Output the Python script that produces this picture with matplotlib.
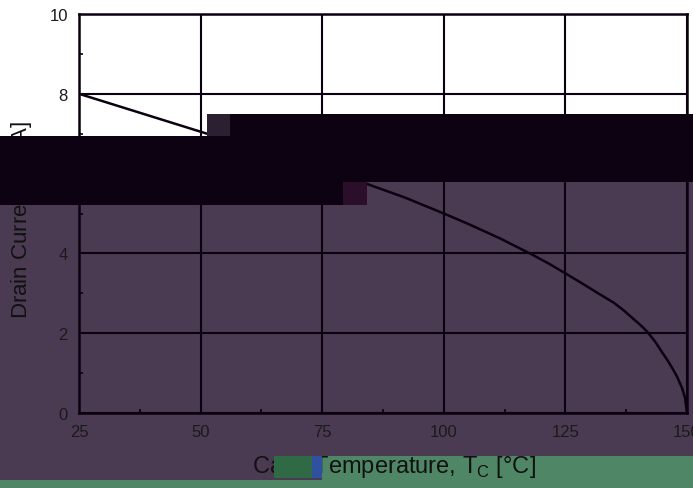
import numpy as np
import matplotlib
matplotlib.use("Agg")
import matplotlib.pyplot as plt
from matplotlib.patches import Rectangle

plt.rcParams['font.family'] = ['Liberation Sans', 'DejaVu Sans']
plt.rcParams['mathtext.fontset'] = 'custom'
plt.rcParams['mathtext.rm'] = 'Liberation Sans'

# Derating curve: drain current vs case temperature
case_temp = [25, 50, 84, 92, 100, 105, 111.5, 118, 121.5, 125, 128, 132, 135, 137,
             140, 141, 142, 143.5, 145, 146, 147, 148, 149, 149.6, 150]
drain_current = [8.0, 7.05, 5.75, 5.4, 5.0, 4.74, 4.38, 3.98, 3.75, 3.5, 3.28, 2.98, 2.76, 2.57,
                 2.25, 2.14, 2.01, 1.78, 1.5, 1.32, 1.12, 0.9, 0.62, 0.38, 0.0]

x_ticks = [25, 50, 75, 100, 125, 150]
y_ticks = [0, 2, 4, 6, 8, 10]

W, H = 693, 489
fig = plt.figure(figsize=(W / 100, H / 100), dpi=100)
ax = fig.add_axes([79 / W, 1 - 414 / H, 608 / W, 399 / H])
ax.set_facecolor('none')


def px_rect(x0, y0, x1, y1, color, z):
    # rectangle given in pixel corners (origin at top-left)
    fig.add_artist(Rectangle((x0 / W, 1 - y1 / H), (x1 - x0) / W, (y1 - y0) / H,
                             transform=fig.transFigure, facecolor=color,
                             edgecolor='none', zorder=z))


# tinted background bands
px_rect(0, 183, W, 489, '#4b3b52', -2)
px_rect(322, 457, W, 489, '#4f8766', -1)
px_rect(0, 481, W, 489, '#4f8766', -1)

ax.plot(case_temp, drain_current, color='#0a0010', linewidth=1.8, zorder=3)

ax.set_xlim(25, 150)
ax.set_ylim(0, 10)
ax.set_xticks(x_ticks)
ax.set_yticks(y_ticks)
ax.set_xticks(np.arange(37.5, 150, 25), minor=True)
ax.set_yticks(np.arange(1, 10, 2), minor=True)
ax.tick_params(which='major', length=0, labelsize=12, labelcolor='#1a1a1a', pad=8)
ax.tick_params(which='minor', direction='in', length=3, width=1.2, color='#0a0010')
ax.grid(True, which='major', color='#0a0010', linewidth=1.5)
for s in ax.spines.values():
    s.set_linewidth(1.8)
    s.set_color('#0a0010')

ax.set_xlabel('Case Temperature, T$_\\mathrm{C}$ [°C]', fontsize=17, color='#111111')
ax.set_ylabel('Drain Current, I$_\\mathrm{D}$ [A]', fontsize=16, color='#111111')
ax.xaxis.set_label_coords(0.518, -0.1)
ax.yaxis.set_label_coords(-0.074, 0.485)

# dark blocks across the middle of the figure
px_rect(207, 115, W, 183, '#0c0212', 5)
px_rect(207, 115, 230, 137, '#2a2032', 6)
px_rect(0, 137, 343, 206, '#0c0212', 5)
px_rect(343, 183, 367, 206, '#2a0e2a', 5)
px_rect(274, 457, 312, 479, '#2f6a45', 5)
px_rect(312, 457, 322, 479, '#3050a0', 5)

fig.savefig('out.png', dpi=100)
